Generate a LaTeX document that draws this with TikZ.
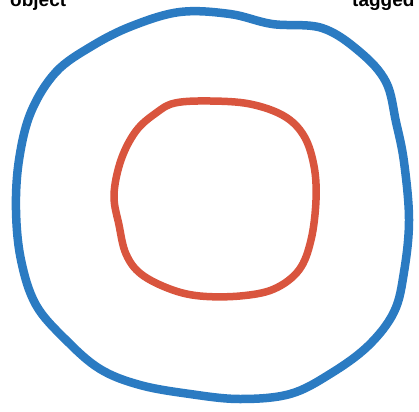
\documentclass[tikz,border=0pt]{standalone}
\usepackage{fontspec}
\setmainfont{Liberation Sans}
\usetikzlibrary{positioning}
\definecolor{loopblue}{HTML}{2B7BC2}
\definecolor{loopred}{HTML}{D9553E}

\begin{document}
\begin{tikzpicture}[
  x=1pt, y=-1pt,
  tag/.style={font=\fontsize{19}{20}\selectfont\bfseries, inner sep=0pt, anchor=base west},
  outer/.style={draw=loopblue, line width=8.5pt, line join=round},
  inner/.style={draw=loopred, line width=7.5pt, line join=round}
]
\useasboundingbox (0,0) rectangle (419,411);

\node[tag] (obj) at (10,7) {object};
\node[tag] (tag) at (352,7) {tagged};

% outer loop
\draw[outer] plot[smooth cycle, tension=0.6] coordinates {
  (180,12) (230,14) (272,24) (322,28) (360,52) (386,82) (396,122) (404,162)
  (409,220) (404,272) (394,312) (368,346) (330,374) (290,394) (240,399)
  (190,394) (140,385) (100,369) (66,340) (36,305) (21,260) (16,210)
  (19,160) (31,112) (56,72) (92,46) (132,26)};

% inner loop
\draw[inner] plot[smooth cycle, tension=0.6] coordinates {
  (175,103) (210,101) (250,104) (284,116) (304,136) (314,166) (316,200)
  (311,240) (299,270) (274,289) (240,296) (200,296) (170,289) (141,274)
  (126,254) (119,225) (114,195) (121,160) (136,131) (156,113)};
\end{tikzpicture}
\end{document}
